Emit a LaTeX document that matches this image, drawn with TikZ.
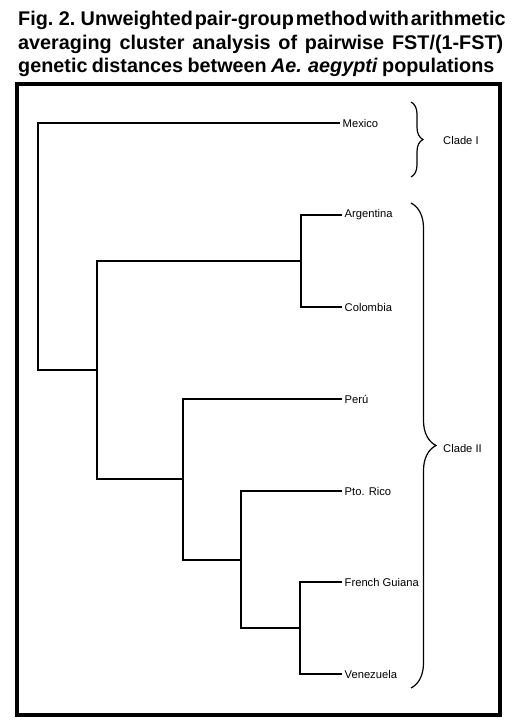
\documentclass[tikz,border=0pt]{standalone}
\usepackage{fontspec}
\setmainfont{Liberation Sans}
\usetikzlibrary{decorations.pathreplacing}
\newcommand{\ttlsp}{\spaceskip=0.22em plus 0.5em minus 0.12em\relax}

\begin{document}
\begin{tikzpicture}[
  x=1pt, y=-1pt,
  branch/.style={line width=1.4pt, line cap=rect},
  leaf/.style={anchor=west, inner sep=3.5pt, font=\fontsize{11.2}{13}\selectfont},
  ttl/.style={anchor=base west, inner sep=0pt, font=\fontsize{19.8}{23}\selectfont\bfseries},
  clade/.style={decorate, decoration={brace, amplitude=#1}, line width=1.2pt},
  cladelab/.style={anchor=west, inner sep=0pt, font=\fontsize{11.2}{13}\selectfont}]
  \useasboundingbox (0,0) rectangle (528,725);
  % title
  \node[ttl] (ttl1) at (18,26) {\ttlsp\makebox[485pt][s]{Fig. 2. Unweighted pair-group method with arithmetic}};
  \node[ttl] (ttl2) at (18,49.5) {\ttlsp\makebox[485pt][s]{averaging cluster analysis of pairwise FST/(1-FST)}};
  \node[ttl] (ttl3) at (18,73) {\ttlsp genetic distances between \textit{Ae. aegypti} populations};
  \draw[line width=4pt] (17,84) rectangle (500,715);
  % leaves
  \node[leaf] (mex) at (339,123) {Mexico};
  \node[leaf] (arg) at (341,215) {Argentina};
  \node[leaf] (col) at (341,307) {Colombia};
  \node[leaf] (per) at (341,399) {Perú};
  \node[leaf] (ptr) at (341,491) {Pto. Rico};
  \node[leaf] (frg) at (341,582) {French Guiana};
  \node[leaf] (ven) at (341,674) {Venezuela};
  % internal nodes
  \coordinate (root) at (38,246);
  \coordinate (c2) at (97,370);
  \coordinate (ac) at (301,261);
  \coordinate (pv) at (183,479);
  \coordinate (pfv) at (241,560);
  \coordinate (fv) at (300,628);
  \draw[branch] (mex.west) -| (root) |- (c2);
  \draw[branch] (ac) -| (c2) |- (pv);
  \draw[branch] (arg.west) -| (ac) |- (col.west);
  \draw[branch] (per.west) -| (pv) |- (pfv);
  \draw[branch] (ptr.west) -| (pfv) |- (fv);
  \draw[branch] (frg.west) -| (fv) |- (ven.west);
  % clades
  \coordinate (b1t) at (411,102);
  \coordinate (b1b) at (411,177);
  \coordinate (b2t) at (411,203);
  \coordinate (b2b) at (411,688);
  \draw[clade=12pt] (b1t) -- (b1b);
  \draw[clade=25pt] (b2t) -- (b2b);
  \node[cladelab] (cl1) at (443,140) {Clade I};
  \node[cladelab] (cl2) at (443,448) {Clade II};
\end{tikzpicture}
\end{document}
